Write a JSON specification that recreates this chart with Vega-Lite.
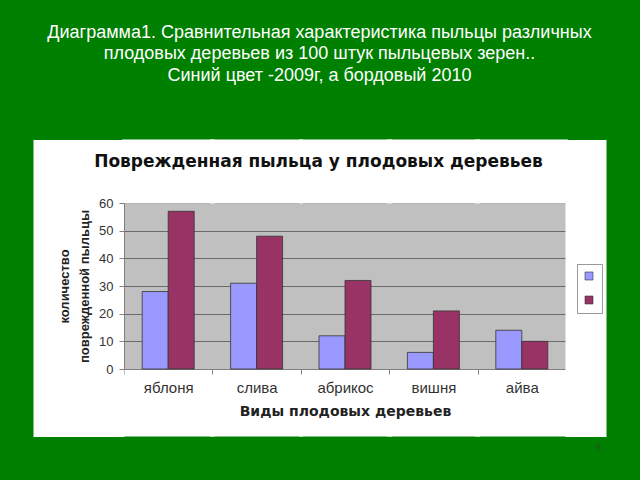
{
  "$schema": "https://vega.github.io/schema/vega-lite/v6.json",
  "width": 442,
  "height": 166,
  "autosize": {"type": "none"},
  "padding": {"left": 124, "top": 203, "right": 74, "bottom": 111},
  "background": "#008000",
  "title": {
    "text": ["Диаграмма1.  Сравнительная характеристика пыльцы   различных", "плодовых деревьев из 100 штук пыльцевых зерен..", "Синий цвет -2009г, а бордовый 2010"],
    "color": "#ffffff",
    "font": "Liberation Sans",
    "fontSize": 18,
    "fontWeight": "normal",
    "lineHeight": 21.5,
    "anchor": "middle",
    "frame": "bounds",
    "offset": 8
  },
  "config": {
    "view": {"fill": "#c0c0c0", "stroke": "#808080"},
    "font": "Liberation Sans"
  },
  "data": {
    "values": [
      {"tree": "яблоня", "year": "2009", "value": 28},
      {"tree": "яблоня", "year": "2010", "value": 57},
      {"tree": "слива", "year": "2009", "value": 31},
      {"tree": "слива", "year": "2010", "value": 48},
      {"tree": "абрикос", "year": "2009", "value": 12},
      {"tree": "абрикос", "year": "2010", "value": 32},
      {"tree": "вишня", "year": "2009", "value": 6},
      {"tree": "вишня", "year": "2010", "value": 21},
      {"tree": "айва", "year": "2009", "value": 14},
      {"tree": "айва", "year": "2010", "value": 10}
    ]
  },
  "resolve": {"axis": {"x": "independent", "y": "independent"}},
  "layer": [
    {
      "mark": {"type": "bar", "opacity": 0},
      "encoding": {
        "x": {
          "field": "tree", "type": "nominal", "sort": null,
          "scale": {"paddingInner": 0, "paddingOuter": 0},
          "axis": {
            "orient": "top", "labels": false, "domain": false, "grid": false,
            "ticks": true, "tickColor": "#ffffff", "tickSize": 64, "tickWidth": 93,
            "title": null
          }
        },
        "y": {
          "field": "value", "type": "quantitative",
          "scale": {"domain": [0, 60], "nice": false},
          "axis": {
            "orient": "left", "values": [29.3], "labels": false, "domain": false, "grid": false,
            "tickColor": "#ffffff", "tickSize": 91, "tickWidth": 297, "title": null
          }
        }
      }
    },
    {
      "mark": {"type": "bar", "opacity": 0},
      "encoding": {
        "x": {
          "field": "tree", "type": "nominal", "sort": null,
          "axis": {
            "orient": "bottom", "labels": false, "domain": false, "grid": false,
            "tickColor": "#ffffff", "tickSize": 67, "tickWidth": 93,
            "title": "9", "titleColor": "#1a5c1a", "titleFontSize": 11, "titleFontWeight": "normal",
            "titleX": 473, "titleY": 78, "titleBaseline": "middle", "titleAlign": "center"
          }
        },
        "y": {
          "field": "value", "type": "quantitative",
          "axis": {
            "orient": "right", "offset": -1, "values": [29.3], "labels": false, "domain": false, "grid": false,
            "tickColor": "#ffffff", "tickSize": 41, "tickWidth": 297,
            "title": "Поврежденная пыльца у плодовых деревьев",
            "titleFont": "DejaVu Sans", "titleFontSize": 17, "titleFontWeight": "bold",
            "titleColor": "#111111", "titleAngle": 0, "titleX": -247, "titleY": -42,
            "titleBaseline": "middle", "titleAlign": "center"
          }
        }
      }
    },
    {
      "mark": {"type": "bar", "stroke": "#333333", "strokeWidth": 0.8},
      "encoding": {
        "x": {
          "field": "tree", "type": "nominal", "sort": null,
          "axis": {
            "orient": "bottom", "tickBand": "extent", "tickSize": 5, "tickColor": "#808080",
            "domainColor": "#808080", "labelFontSize": 15, "labelColor": "#333333",
            "labelPadding": 6, "labelAngle": 0,
            "title": "Виды плодовых деревьев", "titleFont": "DejaVu Sans", "titleFontSize": 14,
            "titleFontWeight": "bold", "titlePadding": 9, "titleColor": "#222222"
          }
        },
        "y": {
          "field": "value", "type": "quantitative",
          "axis": {
            "orient": "left", "values": [0, 10, 20, 30, 40, 50, 60], "grid": true,
            "gridColor": "#6a6a6a", "tickSize": 5, "tickColor": "#808080", "domainColor": "#808080",
            "labelFontSize": 13, "labelColor": "#333333", "labelPadding": 6,
            "title": ["количество", "поврежденной пыльцы"], "titleFontSize": 13,
            "titleFontWeight": "bold", "titleLineHeight": 20, "titlePadding": 7, "titleColor": "#222222"
          }
        },
        "xOffset": {"field": "year", "type": "nominal", "scale": {"paddingInner": 0, "paddingOuter": 0.7}},
        "color": {
          "field": "year", "type": "nominal",
          "scale": {"domain": ["2009", "2010"], "range": ["#9999ff", "#993366"]},
          "legend": {
            "orient": "none", "legendX": 453, "legendY": 61, "title": null, "labelExpr": "''",
            "symbolType": "square", "symbolSize": 64, "symbolStrokeColor": "#333333",
            "symbolStrokeWidth": 0.6, "fillColor": "#ffffff", "strokeColor": "#999999",
            "padding": 7, "rowPadding": 12, "labelOffset": 0, "labelFontSize": 10
          }
        }
      }
    }
  ]
}
